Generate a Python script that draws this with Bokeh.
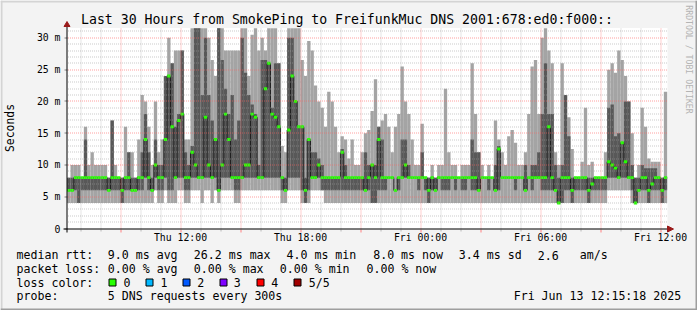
import math
from bokeh.plotting import figure
from bokeh.models import Range1d, ColumnDataSource
from bokeh.embed import file_html
from bokeh.resources import INLINE
from bokeh.core.properties import value

# ---------------- data ----------------
TITLE = "Last 30 Hours from SmokePing to FreifunkMuc DNS 2001:678:ed0:f000::"
START_H = 6.3333          # first sample: Thu 06:20 (hours since Thu 00:00)
STEP_H = 1.0 / 6.0        # 10 minute samples

# five sorted DNS pings per step (ms): min, 2nd, median, 4th, max
ping_min = [4,4,4,4,4,4,4,4,4,4, 4,4,4,4,4,4,4,4,4,4, 4,4,4,4,4,4,6,4,4,6,
            4,4,4,6,6,4,4,6,6,6, 4,6,6,4,6,4,6,6,6,6, 4,4,6,6,6,6,6,6,6,6,
            6,6,6,6,4,4,6,6,6,6, 4,4,4,6,6,6,6,4,4,4, 4,4,4,4,4,4,4,4,4,4,
            4,4,4,4,4,4,4,4,4,4, 4,4,4,4,4,4,4,4,4,4, 4,4,4,4,4,4,4,4,4,4,
            4,4,4,4,4,4,4,4,4,4, 4,4,4,4,4,4,4,4,4,4, 4,4,4,4,4,4,4,4,4,4,
            4,4,4,4,4,4,4,4,4,4, 4,4,6,6,6,6,6,6,6,4, 4,4,4,4,4,4,4,4,4,4]
ping_q1 = [6,6,6,4,6,6,6,6,6,6, 6,6,6,6,6,6,4,6,6,6, 6,6,6,8,6,6,8,6,6,8,
           6,6,8,8,8,6,6,8,8,8, 8,8,8,8,8,6,8,8,8,8, 6,6,8,8,8,8,8,8,8,8,
           8,8,8,8,6,6,8,8,8,8, 6,4,6,8,8,8,6,6,6,6, 6,6,6,6,6,6,6,6,6,6,
           6,4,4,6,6,6,8,8,8,6, 8,8,8,8,8,6,8,6,4,6, 6,8,6,6,6,8,6,8,6,6,
           8,6,6,6,8,8,6,8,6,6, 8,8,8,8,6,8,8,6,8,6, 8,8,6,6,6,6,6,4,4,6,
           6,4,6,6,6,6,4,6,6,6, 6,6,8,8,8,8,8,8,8,6, 4,6,6,6,4,6,6,6,4,6]
ping_med = [6,6,8,8,8,8,8,8,8,8, 8,8,6,8,8,8,6,8,8,6, 6,8,8,14,8,6,10,8,8,14,
            24,16,8,17,18,8,8,12,10,8, 8,17.5,10,8,14,6,10,18,14,8, 8,8,8,10,10,18,17.5,8,8,22,
            26,18,17.5,16,8,6,15.5,24,20,16, 16,6,14,8,8,10,8,8,8,8, 8,8,12,8,8,8,8,8,8,6,
            8,10,8,14,8,8,8,8,6,8, 8,10,8,8,8,8,8,8,6,8, 6,8,8,8,8,8,8,8,8,8,
            8,8,8,6,8,8,8,8,6,12.5, 8,8,8,8,8,8,8,6,8,8, 8,8,8,8,16,8,6,4,8,8,
            8,6,8,8,8,8,6,7,8,8, 8,8,10.5,10,9.5,8,13.5,10.5,8,8, 4,6,8,8,6,7,8,8,6,8]
ping_q3 = [8,8,8,8,8,14,8,8,8,8, 8,8,8,17,8,8,8,8,12,8, 8,8,12,18,12,8,14,10,10,24,
           24,26,16,18,28,12,10,13,31.5,31.5, 21,30,21,17,14,31.5,26.5,22,18,21, 14,17,30,24.5,21,19.5,18,10,26.5,26.5,
           26,19,26,26,8,8,30,30,20,16, 16,8,14,12,12,11,10,8,8,8, 8,8,12.5,10,8,8,8,8,8,12,
           10,10,10,16,14,8,8,8,8,8, 14,14,10,8,8,8,12,8,8,8, 8,8,8,8,8,8,8,8,8,8,
           8,14,12,12,8,8,8,8,10,13, 8,8,8,8,8,8,8,10,8,10, 10,12,18,26,18,18,10,8,10,21,
           14.5,8,8,8,8,8,8,8,8,8, 8,8,19,19.5,14.5,15,13.5,20,20,10, 8,8,10,9.5,9.5,9.5,9.5,8,8,8]
ping_max = [8,10,10,10,8,16,10,12,10,10, 10,10,8,17,10,8,8,16,12,12, 8,14,21,20,16,10,20,12,14,24,
            30,26,28,28,28,14,14,31.5,31.5,31.5, 31.5,31.5,30,26.5,24,31.5,31.5,28,28,28, 28,28,31.5,31.5,24,30.5,31.5,28,30,28,
            31.5,31.5,31.5,26,13,12,31.5,31.5,31.5,31.5, 26.5,24,29.5,28,22.5,20,19,16,21.5,20, 16,12,14.5,14,11,14,10,10,12,15,
            15.5,18.5,23.5,16,17,18,16,12,16,18, 25.5,20,18,14,10,10,16.5,8,8,10, 8,10,10,22,12,10,10,8,10,10,
            10,26,18,12,10,8,10,8,17,14, 12,10,14.5,15.5,13.5,10,10,12,18,25.5, 26.5,18,30,31.5,28,26,12,10,26,21,
            17.5,12.5,8,8,10.5,19,10,10.5,8,8, 8,12,25,26,24.5,28,26.5,24,20,15, 8,10,19,16,11,10.5,10.5,10.5,8,21.5]

y_ticks = [0, 5, 10, 15, 20, 25, 30]
y_tick_labels = ["0", "5 m", "10 m", "15 m", "20 m", "25 m", "30 m"]
x_ticks = [12, 18, 24, 30, 36]
x_tick_labels = ["Thu 12:00", "Thu 18:00", "Fri 00:00", "Fri 06:00", "Fri 12:00"]

loss_labels = ["0", "1", "2", "3", "4", "5/5"]
loss_colors = ["#26ff00", "#00b8ff", "#0059ff", "#7e00ff", "#ff0000", "#a10000"]

rtt_items = ["9.0 ms avg", "26.2 ms max", "4.0 ms min", "8.0 ms now", "3.4 ms sd", "2.6", "am/s"]
loss_items = ["0.00 % avg", "0.00 % max", "0.00 % min", "0.00 % now"]
probe_text = "5 DNS requests every 300s"
stamp_text = "Fri Jun 13 12:15:18 2025"

n = len(ping_med)
assert all(len(a) == n for a in (ping_min, ping_q1, ping_q3, ping_max))

# ---------------- layout constants (pixels) ----------------
W, H = 697, 310
PX_PER_H = 20.0           # x pixel = 20*h - 60
PX_PER_MS = 6.355
Y0 = 228.0                # pixel row of 0 ms
PLOT_L, PLOT_R, PLOT_T = 67, 667, 27.5

x_lo = (0 + 60) / PX_PER_H
x_hi = (W + 60) / PX_PER_H
y_lo = (Y0 - H) / PX_PER_MS
y_hi = Y0 / PX_PER_MS


def ypx(v):
    """pixel row (snapped to pixel centre) of a ms value on the value scale"""
    return math.floor(Y0 - PX_PER_MS * v) + 0.5


def xpx(h):
    return math.floor(PX_PER_H * h - 60) + 0.5


MONO = value("DejaVu Sans Mono")
BG = "#f3f3f3"

p = figure(width=W, height=H, x_range=Range1d(x_lo, x_hi), y_range=Range1d(y_lo, y_hi),
           x_axis_type=None, y_axis_type=None, toolbar_location=None,
           output_backend="svg", min_border=0, outline_line_color=None,
           background_fill_color=BG, border_fill_color=BG)
p.extra_x_ranges = {"px": Range1d(0, W)}
p.extra_y_ranges = {"px": Range1d(H, 0)}
p.xgrid.visible = False
p.ygrid.visible = False

PXR = dict(x_range_name="px", y_range_name="px")

# white canvas
p.quad(left=[PLOT_L], right=[PLOT_R], top=[PLOT_T], bottom=[Y0], **PXR,
       fill_color="white", line_color=None)

left = [START_H + i * STEP_H for i in range(n)]
right = [l + STEP_H for l in left]
src = ColumnDataSource(dict(left=left, right=right, mn=ping_min, q1=ping_q1,
                            med=ping_med, q3=ping_q3, mx=ping_max,
                            gl=[m - 0.23 for m in ping_med], gh=[m + 0.23 for m in ping_med]))

# smoke
p.quad(left="left", right="right", bottom="mn", top="mx", source=src,
       fill_color="#a4a4a4", line_color=None)
p.quad(left="left", right="right", bottom="q1", top="q3", source=src,
       fill_color="#585858", line_color=None)
# median line
p.step(x=left + [right[-1]], y=ping_med + [ping_med[-1]], mode="after",
       line_color="#202020", line_width=1)
# loss-coloured median marks (0 loss everywhere)
p.quad(left="left", right="right", bottom="gl", top="gh", source=src,
       fill_color=loss_colors[0], line_color=None)

# grid (drawn over the data, like rrdtool), snapped to pixel centres
minor_y = [v for v in range(1, 32) if v % 5 != 0]
major_y = [v for v in range(5, 31, 5)]
minor_x = [h for h in range(7, 37) if h % 3 != 0]
major_x = [h for h in range(9, 37, 3)]
gx0, gx1 = PLOT_L + 0.5, PLOT_R
gy0, gy1 = Y0, PLOT_T
MINOR = dict(line_color="#a0a0a0", line_alpha=0.55, line_width=1, line_dash="1 1")
MAJOR = dict(line_color="#ff6060", line_alpha=0.6, line_width=1, line_dash="1 1")
p.segment(x0=[gx0] * len(minor_y), x1=[gx1] * len(minor_y),
          y0=[ypx(v) for v in minor_y], y1=[ypx(v) for v in minor_y], **PXR, **MINOR)
p.segment(x0=[xpx(h) for h in minor_x], x1=[xpx(h) for h in minor_x],
          y0=[gy0] * len(minor_x), y1=[gy1] * len(minor_x), **PXR, **MINOR)
p.segment(x0=[gx0] * len(major_y), x1=[gx1] * len(major_y),
          y0=[ypx(v) for v in major_y], y1=[ypx(v) for v in major_y], **PXR, **MAJOR)
p.segment(x0=[xpx(h) for h in major_x], x1=[xpx(h) for h in major_x],
          y0=[gy0] * len(major_x), y1=[gy1] * len(major_x), **PXR, **MAJOR)

# ticks
p.segment(x0=[PLOT_L - 3] * len(y_ticks), x1=[PLOT_L] * len(y_ticks),
          y0=[ypx(v) for v in y_ticks], y1=[ypx(v) for v in y_ticks], **PXR,
          line_color="#808080")
p.segment(x0=[xpx(h) for h in major_x], x1=[xpx(h) for h in major_x],
          y0=[Y0 + 1] * len(major_x), y1=[Y0 + 4] * len(major_x), **PXR,
          line_color="#ff8080")
p.segment(x0=[xpx(h) for h in minor_x], x1=[xpx(h) for h in minor_x],
          y0=[Y0 + 1] * len(minor_x), y1=[Y0 + 3] * len(minor_x), **PXR,
          line_color="#b8b8b8")

# axes
p.segment(x0=[63, PLOT_L - 0.5], x1=[PLOT_R + 1, PLOT_L - 0.5],
          y0=[Y0 + 0.5, 232], y1=[Y0 + 0.5, 25], **PXR,
          line_color="#000000", line_width=1)
p.patch(x=[63.5, 69.5, 66.5], y=[26, 26, 21], **PXR,
        fill_color="#9a1a1a", line_color="#9a1a1a")
p.patch(x=[667, 667, 673], y=[225.5, 231.5, 228.5], **PXR,
        fill_color="#9a1a1a", line_color="#9a1a1a")

TXT = dict(text_font=MONO, text_color="#000000")

# tick labels
p.text(x=[60] * len(y_ticks), y=y_ticks, text=y_tick_labels, x_range_name="px",
       text_align="right", text_baseline="middle", text_font_size="9.8px", **TXT)
p.text(x=x_ticks, y=[237] * len(x_ticks), text=x_tick_labels, y_range_name="px",
       text_align="center", text_baseline="middle", text_font_size="9.8px", **TXT)

# title & side labels
p.text(x=[346.5], y=[19], text=[TITLE], **PXR, text_align="center",
       text_baseline="middle", text_font_size="13.2px", **TXT)
p.text(x=[9.5], y=[127.5], text=["Seconds"], angle=math.pi / 2, **PXR,
       text_align="center", text_baseline="middle", text_font_size="11.4px", **TXT)
p.text(x=[688.5], y=[59], text=["RRDTOOL / TOBI OETIKER"], angle=-math.pi / 2, **PXR,
       text_align="center", text_baseline="middle", text_font=MONO,
       text_font_size="8.2px", text_color="#b4b4b4")

# legend text
FS = "11.6px"
rows_y = [254.5, 268.2, 282.0, 295.6]
lt = ["median rtt:", "packet loss:", "loss color:", "probe:"]
p.text(x=[16] * 4, y=rows_y, text=lt, **PXR, text_baseline="middle",
       text_font_size=FS, **TXT)
rtt_x = [107.3, 193.3, 286, 372.7, 458.3, 537.3, 579.3]
p.text(x=rtt_x, y=[rows_y[0]] * len(rtt_items), text=rtt_items, **PXR,
       text_baseline="middle", text_font_size=FS, **TXT)
loss_x = [107.3, 193.3, 279.3, 366]
p.text(x=loss_x, y=[rows_y[1]] * len(loss_items), text=loss_items, **PXR,
       text_baseline="middle", text_font_size=FS, **TXT)
box_x = [108.5, 145.5, 182.5, 219.5, 256.5, 293.5]
lab_x = [123, 160, 196.7, 233.3, 270.7, 308.3]
p.quad(left=box_x, right=[b + 7 for b in box_x], top=[278.5] * 6, bottom=[285.5] * 6,
       **PXR, fill_color=loss_colors, line_color="#000000", line_width=1)
p.text(x=lab_x, y=[rows_y[2]] * 6, text=loss_labels, **PXR,
       text_baseline="middle", text_font_size=FS, **TXT)
p.text(x=[107.3], y=[rows_y[3]], text=[probe_text], **PXR,
       text_baseline="middle", text_font_size=FS, **TXT)
p.text(x=[680.7], y=[rows_y[3]], text=[stamp_text], **PXR, text_align="right",
       text_baseline="middle", text_font_size=FS, **TXT)

# 3D border
p.segment(x0=[0, 1], x1=[W, 1], y0=[1, 0], y1=[1, H], **PXR,
          line_color="#d4d4d4", line_width=2)
p.segment(x0=[0, W - 1], x1=[W, W - 1], y0=[H - 1, 0], y1=[H - 1, H], **PXR,
          line_color="#9e9e9e", line_width=2)

open("out.html", "w").write(file_html(p, INLINE))
